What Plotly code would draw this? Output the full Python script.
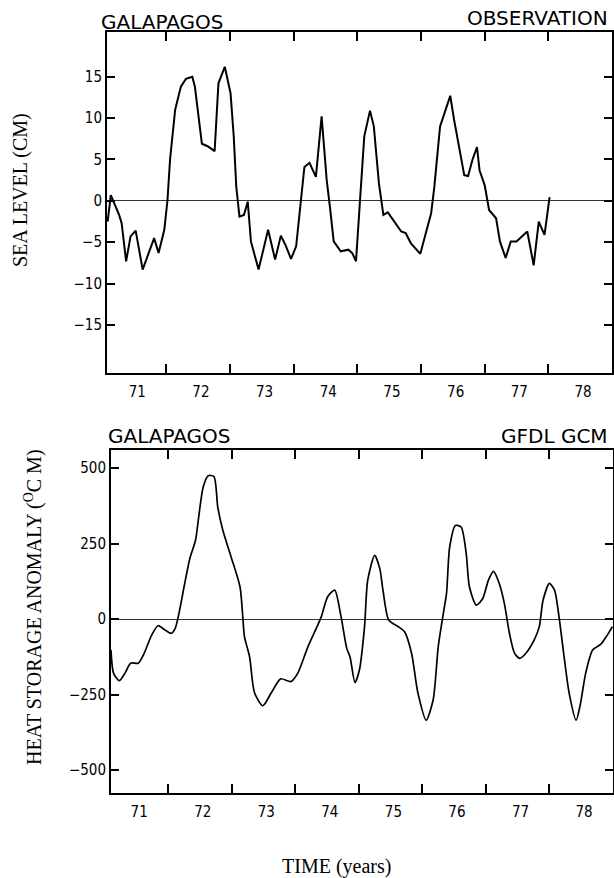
import plotly.graph_objects as go

# ---- data ----
obs_year = [71.08, 71.13, 71.26, 71.30, 71.37, 71.44, 71.52, 71.63, 71.81, 71.88,
            71.97, 72.02, 72.06, 72.14, 72.23, 72.31, 72.41, 72.45, 72.56, 72.65,
            72.76, 72.82, 72.92, 73.01, 73.06, 73.10, 73.15, 73.22, 73.28, 73.33,
            73.45, 73.60, 73.71, 73.80, 73.87, 73.96, 74.04, 74.11, 74.17, 74.25,
            74.35, 74.44, 74.52, 74.57, 74.63, 74.74, 74.86, 74.92, 74.98, 75.04,
            75.11, 75.20, 75.26, 75.34, 75.41, 75.48, 75.61, 75.69, 75.76, 75.84,
            75.99, 76.08, 76.16, 76.21, 76.30, 76.37, 76.46, 76.52, 76.60, 76.68,
            76.74, 76.81, 76.88, 76.92, 77.00, 77.07, 77.18, 77.24, 77.33, 77.41,
            77.50, 77.67, 77.77, 77.85, 77.94, 78.02]
obs_sea_level = [-2.5, 0.7, -1.7, -2.7, -7.3, -4.3, -3.6, -8.3, -4.5, -6.3,
                 -3.5, 0.1, 5.0, 11.0, 13.8, 14.75, 15.0, 13.8, 6.9, 6.6,
                 6.0, 14.2, 16.2, 13.0, 7.8, 1.7, -1.9, -1.7, -0.1, -4.9,
                 -8.3, -3.5, -7.1, -4.2, -5.3, -7.0, -5.5, -0.7, 4.1, 4.6,
                 2.9, 10.2, 2.5, -0.7, -4.9, -6.1, -5.9, -6.3, -7.3, -0.3,
                 7.8, 10.9, 9.0, 2.1, -1.7, -1.4, -2.9, -3.7, -3.9, -5.1,
                 -6.4, -3.9, -1.5, 1.7, 9.0, 10.6, 12.7, 9.8, 6.2, 3.1,
                 3.0, 5.0, 6.5, 3.7, 1.9, -1.1, -2.1, -4.9, -6.9, -4.9,
                 -4.9, -3.7, -7.8, -2.5, -4.1, 0.45]

gcm_year = [71.10, 71.14, 71.23, 71.32, 71.41, 71.53, 71.61, 71.74, 71.84, 71.95,
            72.05, 72.11, 72.17, 72.25, 72.34, 72.43, 72.48, 72.55, 72.63, 72.72,
            72.78, 72.86, 72.99, 73.13, 73.17, 73.20, 73.28, 73.36, 73.49, 73.62,
            73.77, 73.93, 74.04, 74.20, 74.33, 74.41, 74.51, 74.62, 74.72, 74.81,
            74.86, 74.94, 75.01, 75.09, 75.14, 75.25, 75.33, 75.38, 75.47, 75.62,
            75.72, 75.83, 75.93, 76.06, 76.17, 76.25, 76.33, 76.38, 76.43, 76.52,
            76.61, 76.69, 76.74, 76.85, 76.95, 77.04, 77.12, 77.21, 77.29, 77.37,
            77.45, 77.53, 77.63, 77.76, 77.84, 77.90, 78.00, 78.08, 78.15, 78.23,
            78.31, 78.42, 78.49, 78.57, 78.68, 78.81, 78.91, 78.99]
gcm_heat_storage = [-102, -179, -204, -179, -146, -146, -119, -53, -22, -36,
                    -47, -31, 19, 107, 200, 261, 338, 437, 475, 472,
                    371, 294, 206, 107, 19, -58, -124, -245, -287, -245,
                    -198, -207, -179, -91, -31, 8, 74, 96, 8, -97,
                    -124, -210, -168, -25, 129, 211, 167, 96, -3, -25,
                    -42, -113, -245, -335, -267, -91, 19, 85, 239, 310,
                    305, 217, 107, 46, 68, 129, 158, 118, 52, -47,
                    -113, -130, -113, -69, -25, 63, 118, 96, 8, -124,
                    -245, -335, -278, -179, -102, -83, -53, -25]

# ticks sit on the year boundaries; each label names the year that ends there
year_boundaries = [72, 73, 74, 75, 76, 77, 78, 79]
year_labels = ["71", "72", "73", "74", "75", "76", "77", "78"]
sea_ticks = [-15, -10, -5, 0, 5, 10, 15]
heat_ticks = [-500, -250, 0, 250, 500]

W, H = 614, 878
TICKFONT = dict(family="Liberation Sans Narrow, DejaVu Sans Condensed, Arial Narrow, sans-serif",
                size=15, color="black")
TITLEFONT = dict(family="DejaVu Sans, Verdana, sans-serif", size=20, color="black")
SERIF = dict(family="Liberation Serif, Times New Roman, serif", size=20, color="black")


def px2fx(px):
    return px / W


def py2fy(py):
    return 1 - py / H


fig = go.Figure()
fig.add_trace(go.Scatter(x=obs_year, y=obs_sea_level, mode="lines",
                         line=dict(color="black", width=2), xaxis="x", yaxis="y",
                         showlegend=False))
fig.add_trace(go.Scatter(x=gcm_year, y=gcm_heat_storage, mode="lines",
                         line=dict(color="black", width=1.7, shape="spline", smoothing=0.7),
                         xaxis="x2", yaxis="y2", showlegend=False))


def xaxis_cfg(domain, rng, anchor):
    return dict(domain=domain, range=rng, anchor=anchor,
                tickmode="array", tickvals=year_boundaries, ticktext=year_labels,
                ticklabelshift=-29, ticklabelstandoff=4,
                ticks="inside", ticklen=9, tickwidth=2, tickcolor="black",
                tickfont=TICKFONT,
                showline=True, linecolor="black", linewidth=2, mirror="ticks",
                showgrid=False, zeroline=False)


def yaxis_cfg(domain, rng, anchor, vals):
    return dict(domain=domain, range=rng, anchor=anchor,
                tickmode="array", tickvals=vals, ticks="inside", ticklen=8,
                tickwidth=1.5, tickcolor="black", tickfont=TICKFONT,
                showline=True, linecolor="black", linewidth=2, mirror="ticks",
                showgrid=False, zeroline=True, zerolinecolor="#333333", zerolinewidth=1.2)


fig.update_layout(
    width=W, height=H,
    margin=dict(l=0, r=0, t=0, b=0),
    paper_bgcolor="white", plot_bgcolor="white",
    xaxis=xaxis_cfg([px2fx(107), px2fx(612)], [71.07, 79.0], "y"),
    yaxis=yaxis_cfg([py2fy(373), py2fy(32)], [-20.8, 20.4], "x", sea_ticks),
    xaxis2=xaxis_cfg([px2fx(111), px2fx(613)], [71.1, 79.0], "y2"),
    yaxis2=yaxis_cfg([py2fy(793), py2fy(450)], [-576, 560], "x2", heat_ticks),
    annotations=[
        dict(text="GALAPAGOS", x=px2fx(99), y=py2fy(21.5), xref="paper", yref="paper",
             xanchor="left", yanchor="middle", showarrow=False, font=TITLEFONT),
        dict(text="OBSERVATION", x=px2fx(610), y=py2fy(17.5), xref="paper", yref="paper",
             xanchor="right", yanchor="middle", showarrow=False, font=TITLEFONT),
        dict(text="GALAPAGOS", x=px2fx(106), y=py2fy(435.5), xref="paper", yref="paper",
             xanchor="left", yanchor="middle", showarrow=False, font=TITLEFONT),
        dict(text="GFDL GCM", x=px2fx(610), y=py2fy(435.5), xref="paper", yref="paper",
             xanchor="right", yanchor="middle", showarrow=False, font=TITLEFONT),
        dict(text="SEA LEVEL (CM)", x=px2fx(20), y=py2fy(190), xref="paper", yref="paper",
             xanchor="center", yanchor="middle", textangle=-90, showarrow=False, font=SERIF),
        dict(text="HEAT STORAGE ANOMALY (<sup>O</sup>C M)", x=px2fx(33), y=py2fy(607),
             xref="paper", yref="paper", xanchor="center", yanchor="middle",
             textangle=-90, showarrow=False, font=SERIF),
        dict(text="TIME (years)", x=px2fx(336), y=py2fy(866), xref="paper", yref="paper",
             xanchor="center", yanchor="middle", showarrow=False, font=SERIF),
    ],
)

fig.write_html("out.html")
